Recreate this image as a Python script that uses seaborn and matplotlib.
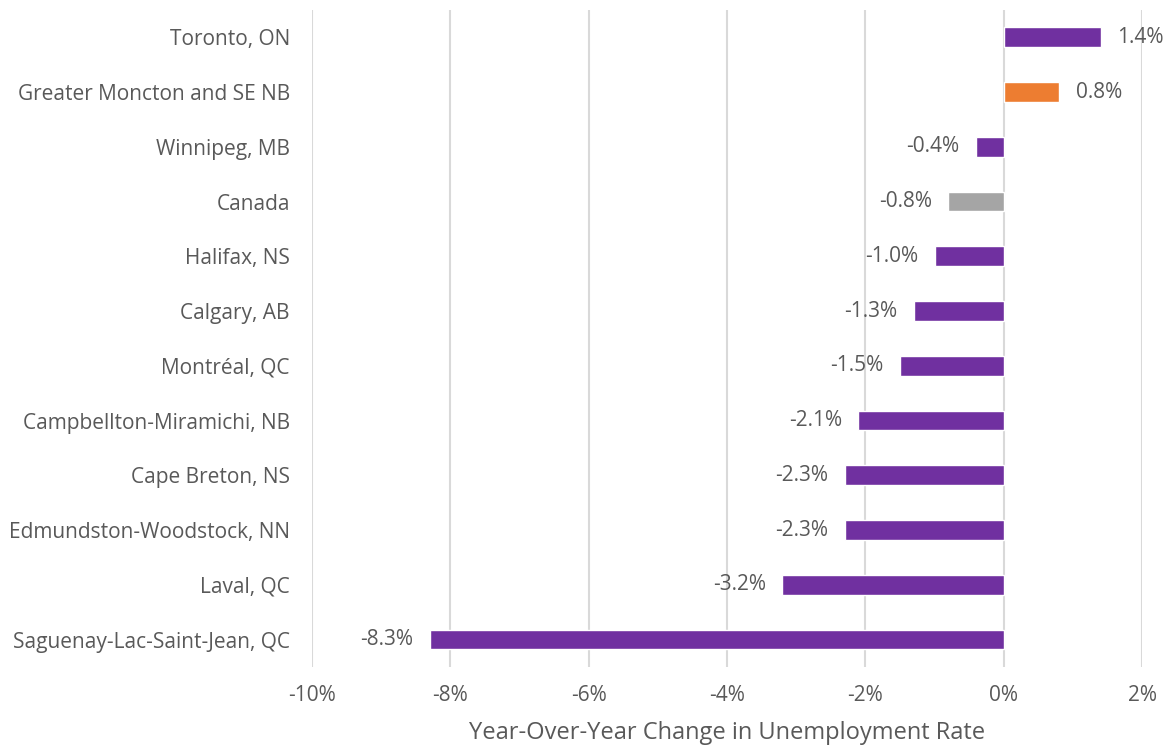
import pandas as pd
import seaborn as sns
from matplotlib import pyplot as plt
from matplotlib.ticker import FuncFormatter

# data
regions = [
    'Toronto, ON',
    'Greater Moncton and SE NB',
    'Winnipeg, MB',
    'Canada',
    'Halifax, NS',
    'Calgary, AB',
    'Montréal, QC',
    'Campbellton-Miramichi, NB',
    'Cape Breton, NS',
    'Edmundston-Woodstock, NN',
    'Laval, QC',
    'Saguenay-Lac-Saint-Jean, QC',
]
change = [1.4, 0.8, -0.4, -0.8, -1.0, -1.3, -1.5, -2.1, -2.3, -2.3, -3.2, -8.3]
colors = ['#7030A0', '#ED7D31', '#7030A0', '#A5A5A5'] + ['#7030A0'] * 8

df = pd.DataFrame({'region': regions, 'change': change})

sns.set_style('white')
plt.rcParams['font.family'] = ['Open Sans', 'DejaVu Sans']
text_color = '#595959'

fig = plt.figure(figsize=(11.7, 7.5), dpi=100)
ax = fig.add_axes([0.2667, 0.1107, 0.7094, 0.876])

sns.barplot(df, x='change', y='region', hue='region', palette=colors,
            saturation=1, legend=False, width=0.36, orient='h', ax=ax, zorder=2)

for bar_group in ax.containers:
    ax.bar_label(bar_group, labels=[f'{v.get_width():.1f}%' for v in bar_group],
                 padding=12, fontsize=15, color=text_color)

ax.set_xlim(-10, 2)
ax.set_xticks(range(-10, 3, 2))
ax.xaxis.set_major_formatter(FuncFormatter(lambda v, _: f'{v:.0f}%'))
ax.grid(axis='x', color='#D9D9D9', linewidth=1.5, zorder=0)
ax.set_axisbelow(True)
sns.despine(ax=ax, left=True, bottom=True)

ax.tick_params(axis='y', length=0, labelsize=15, colors=text_color, pad=16)
ax.tick_params(axis='x', length=0, labelsize=15, colors=text_color, pad=13)
ax.set_ylabel('')
ax.set_xlabel('Year-Over-Year Change in Unemployment Rate', fontsize=17,
              color=text_color, labelpad=11)

plt.savefig('out.png', dpi=100)
